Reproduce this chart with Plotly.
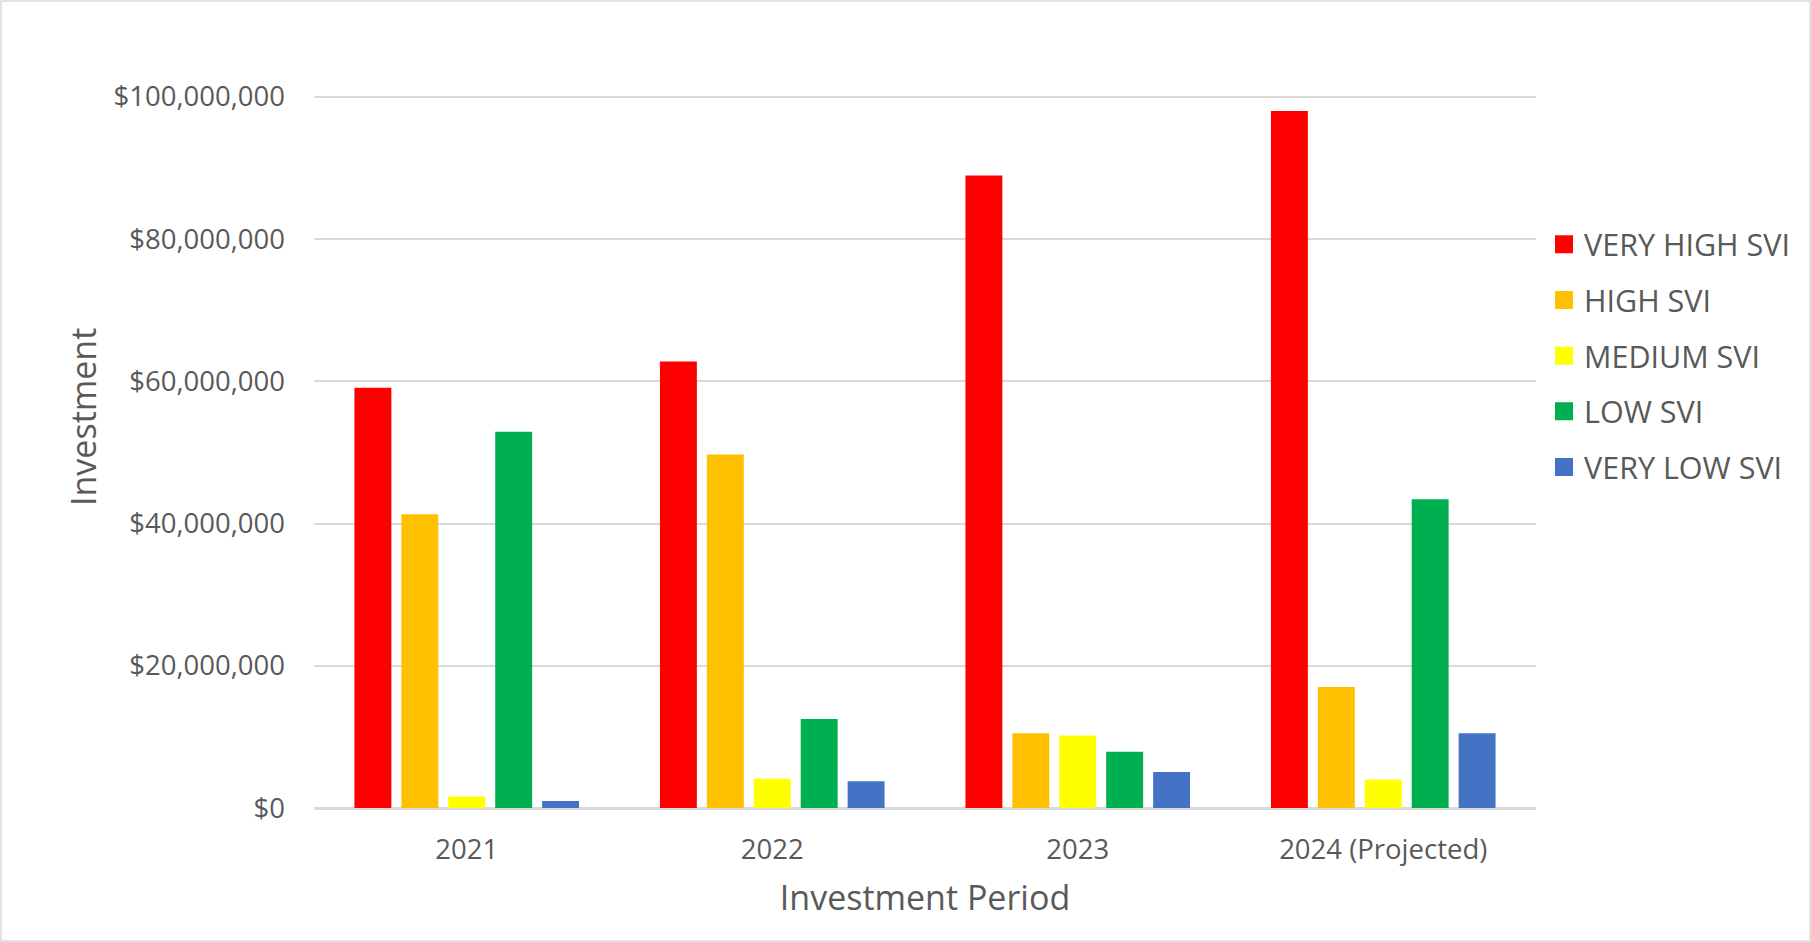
import plotly.graph_objects as go

# ---- data ----
periods = ["2021", "2022", "2023", "2024 (Projected)"]
series_names = ["VERY HIGH SVI", "HIGH SVI", "MEDIUM SVI", "LOW SVI", "VERY LOW SVI"]
very_high = [59_100_000, 62_800_000, 88_950_000, 98_000_000]
high = [41_300_000, 49_700_000, 10_500_000, 17_000_000]
medium = [1_600_000, 4_100_000, 10_200_000, 4_000_000]
low = [52_900_000, 12_500_000, 7_900_000, 43_400_000]
very_low = [1_000_000, 3_750_000, 5_050_000, 10_500_000]
y_ticks = [0, 20_000_000, 40_000_000, 60_000_000, 80_000_000, 100_000_000]
y_max = 100_400_000

colors = ["#FF0000", "#FFC000", "#FFFF00", "#00B050", "#4472C4"]
values = [very_high, high, medium, low, very_low]

W, H = 1811, 942
ML, MR, MB = 314, 275, 134
# plot height chosen so that the 100M gridline sits at y=97
PH_100 = 808 - 97
PH = int(round(PH_100 * y_max / 100_000_000))
MT = H - MB - PH
PW = W - ML - MR

FONT = "Open Sans"
GRAY = "#595959"

fig = go.Figure()
for name, vals, col in zip(series_names, values, colors):
    fig.add_trace(go.Bar(
        x=periods, y=vals, name=name, marker=dict(color=col, line=dict(width=0)),
        showlegend=False,
    ))
# legend entries (larger square swatches)
for i, (name, col) in enumerate(zip(series_names, colors)):
    fig.add_trace(go.Scatter(
        x=[None], y=[None], mode="markers", name=name, legendgroup=f"g{i}",
        marker=dict(symbol="square", size=16, color=col, line=dict(color=col, width=2)),
        showlegend=True, hoverinfo="skip",
    ))

fig.update_layout(
    width=W, height=H,
    margin=dict(l=ML, r=MR, t=MT, b=MB, pad=0),
    paper_bgcolor="white", plot_bgcolor="white",
    barmode="group", bargap=0.232, bargroupgap=0.213,
    font=dict(family=FONT, color=GRAY),
    legend=dict(
        x=(1544 - ML) / PW, xanchor="left", y=1 - (218 - MT) / PH, yanchor="top",
        font=dict(size=30.5, color=GRAY, family=FONT),
        tracegroupgap=13, itemwidth=30, bgcolor="rgba(0,0,0,0)",
    ),
    xaxis=dict(
        title=dict(text="Investment Period", font=dict(size=34, color=GRAY), standoff=20),
        tickfont=dict(size=27.5, color=GRAY),
        showgrid=False, showline=True, linecolor="#D9D9D9", linewidth=1.5,
        ticks="", ticklabelstandoff=16,
    ),
    yaxis=dict(
        range=[0, y_max], tickvals=y_ticks, tickformat="$,.0f",
        tickfont=dict(size=27.5, color=GRAY),
        showgrid=True, gridcolor="#D9D9D9", gridwidth=1.5,
        zeroline=True, zerolinecolor="#D9D9D9", zerolinewidth=1.5,
        ticks="", ticklabelstandoff=28, showline=False,
    ),
    annotations=[dict(
        text="Investment", xref="paper", yref="paper",
        x=0, xshift=83 - ML, y=(H - MB - 417) / PH, xanchor="center", yanchor="middle",
        textangle=-90, showarrow=False, font=dict(size=34, color=GRAY, family=FONT),
    )],
    shapes=[dict(
        type="rect", xref="paper", yref="paper",
        x0=-(ML - 1) / PW, x1=1 + (MR - 1) / PW, y0=-(MB - 1) / PH, y1=1 + (MT - 1) / PH,
        line=dict(color="#D9D9D9", width=1.5), fillcolor="rgba(0,0,0,0)", layer="below",
    )],
)

fig.write_html(
    "out.html",
    config={"displayModeBar": False},
    post_script="document.body.style.margin='0';",
)
